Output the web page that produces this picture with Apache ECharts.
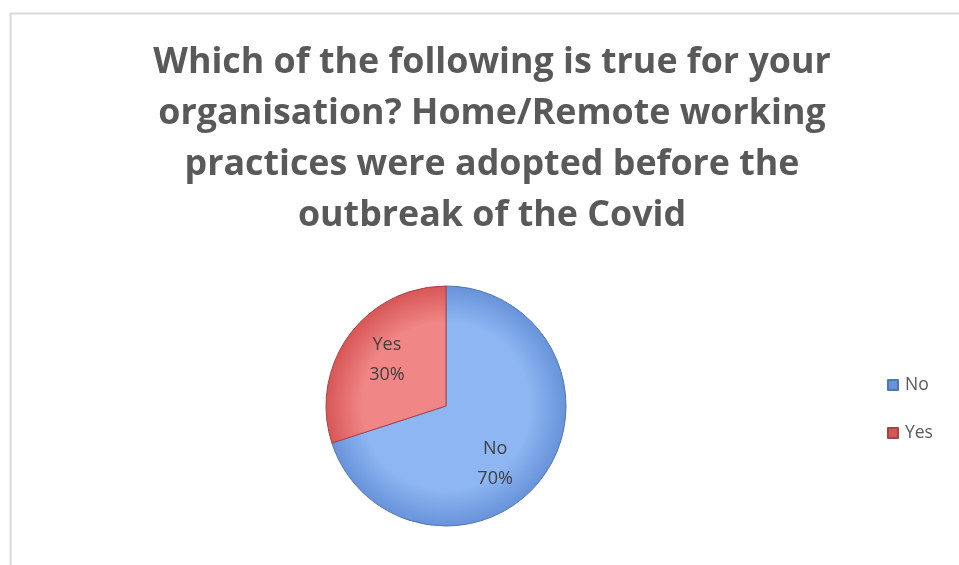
<!DOCTYPE html>
<html><head><meta charset="utf-8">
<script src="https://cdn.jsdelivr.net/npm/echarts@6/dist/echarts.min.js"></script>
<style>html,body{margin:0;padding:0;background:#fff}#c{width:959px;height:565px}</style>
</head><body><div id="c"></div>
<script>
const titleText = "Which of the following is true for your\norganisation? Home/Remote working\npractices were adopted before the\noutbreak of the Covid";
const categories = ["No", "Yes"];
const values = [70, 30];
const cx = 446, cy = 406, R = 120;
function radial(inner, outer){
  return {type:'radial', x:cx, y:cy, r:R, global:true,
    colorStops:[{offset:0,color:inner},{offset:0.7,color:inner},{offset:1,color:outer}]};
}
const fills = [radial('#8db6f2','#6893da'), radial('#f08686','#d85656')];
const borders = ['#4d78b5','#a94444'];
const labelOffsets = [[-14,12],[4,0]];
const chart = echarts.init(document.getElementById('c'));
chart.setOption({
  animation:false,
  backgroundColor:'#fff',
  graphic:[{type:'rect', shape:{x:10.5,y:13.5,width:960,height:560}, style:{fill:'none',stroke:'#d9d9d9',lineWidth:2}, silent:true}],
  title:{text:titleText, left:487, top:32, textAlign:'center',
    textStyle:{fontFamily:'Open Sans', fontWeight:'bold', fontSize:35.8, lineHeight:51, color:'#595959'}},
  legend:{orient:'vertical', left:882, top:371, icon:'rect', itemWidth:10, itemHeight:10, itemGap:30,
    data:categories,
    textStyle:{fontFamily:'Open Sans', fontSize:17.5, lineHeight:17, color:'#595959', padding:[0,0,0,2]}},
  series:[
    {type:'pie', center:[cx,cy], radius:[0,R], startAngle:90, clockwise:true,
      label:{show:false}, labelLine:{show:false},
      data:categories.map((n,i)=>({name:n, value:values[i],
        itemStyle:{color:fills[i], borderColor:borders[i], borderWidth:1}}))},
    {type:'pie', center:[cx,cy], radius:[0,150], startAngle:90, clockwise:true, silent:true,
      itemStyle:{color:'rgba(0,0,0,0)'}, labelLine:{show:false},
      label:{show:true, position:'inside', formatter:'{b}\n{d}%', fontFamily:'Open Sans', fontSize:18, lineHeight:30, color:'#404040'},
      data:categories.map((n,i)=>({name:n, value:values[i], label:{offset:labelOffsets[i]}}))}
  ]
});
</script></body></html>
